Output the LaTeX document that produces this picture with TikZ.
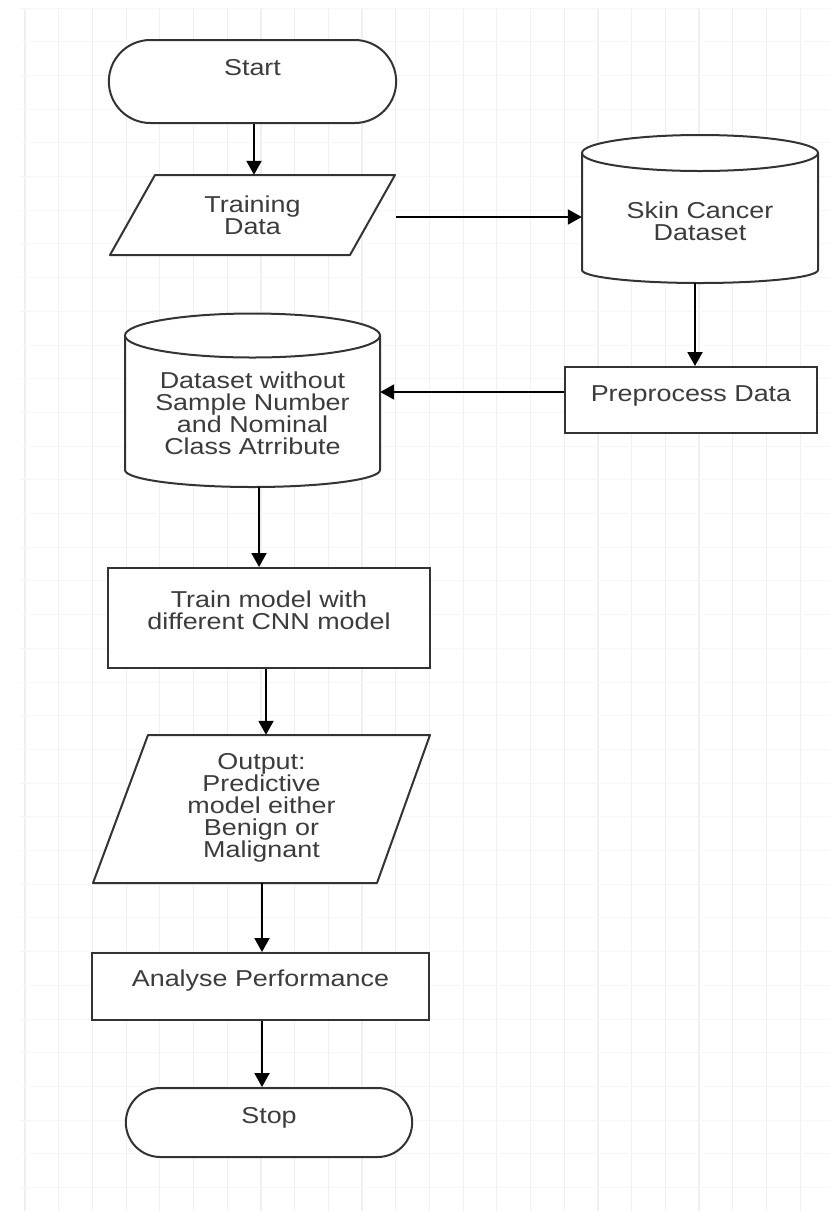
\documentclass[tikz,border=0pt]{standalone}
\usepackage{fontspec}
\setmainfont{Liberation Sans}[FakeStretch=1.17]
\usetikzlibrary{arrows.meta,shapes.misc,calc}
\definecolor{ink}{HTML}{333333}
\definecolor{txt}{HTML}{3C3C3C}
\definecolor{gridv}{HTML}{F0F0F0}
\definecolor{gridh}{HTML}{F6F6F6}
\tikzset{
  shp/.style={draw=ink, line width=2pt, fill=white},
  lbl/.style={text=txt, align=center, font=\fontsize{23}{22}\selectfont, inner sep=0pt},
  boxn/.style={shp, rectangle},
  term/.style={shp, rounded rectangle},
  ghost/.style={draw=none, rectangle, inner sep=0pt},
  arr/.style={draw=black, line width=2pt, -{Triangle[length=14pt,width=15pt]}},
}
\begin{document}
\begin{tikzpicture}[x=1pt,y=-1pt]
\useasboundingbox (0,0) rectangle (830,1211);
\fill[white] (0,0) rectangle (830,1211);
% faint grid
\foreach \i in {0,...,24} {\draw[gridv, line width=1.2pt] (25+33.7*\i,8) -- (25+33.7*\i,1211);}
\foreach \j in {0,...,35} {\draw[gridh, line width=1pt] (20,8+33.7*\j) -- (830,8+33.7*\j);}

% Start
\node[term, minimum width=294pt, minimum height=83pt] (start) at (252.5,81.5) {};
\node[lbl] (starttext) at (252.5,68) {Start};

% Training Data parallelogram
\draw[shp, line join=round] (155,175) -- (395,175) -- (350,255) -- (110,255) -- cycle;
\node[ghost, minimum width=285pt, minimum height=80pt] (tdata) at (252.5,215) {};
\node[lbl] (tdatatext) at (252.5,215) {Training\\Data};
\coordinate (tdout) at (396,217);

% Skin Cancer Dataset cylinder
\draw[shp] (582,153) -- (582,270) arc[start angle=180,end angle=360,x radius=118pt,y radius=13pt] -- (818,153);
\draw[shp] (700,153) ellipse [x radius=118pt, y radius=18pt];
\node[ghost, minimum width=236pt, minimum height=148pt] (skin) at (700,209) {};
\node[lbl] (skintext) at (700,221) {Skin Cancer\\Dataset};

% Preprocess Data
\node[boxn, minimum width=252pt, minimum height=66pt] (prep) at (691,400) {};
\node[lbl] (preptext) at (691,395.5) {Preprocess Data};

% Dataset without cylinder
\draw[shp] (125,335.5) -- (125,470) arc[start angle=180,end angle=360,x radius=127.5pt,y radius=17pt] -- (380,335.5);
\draw[shp] (252.5,335.5) ellipse [x radius=127.5pt, y radius=22pt];
\node[ghost, minimum width=255pt, minimum height=174pt] (dset) at (252.5,400) {};
\node[lbl] (dsettext) at (252.5,413.5) {Dataset without\\Sample Number\\and Nominal\\Class Atrribute};

% Train model
\node[boxn, minimum width=322pt, minimum height=100pt] (train) at (269,618) {};
\node[lbl] (traintext) at (269,610.5) {Train model with\\different CNN model};

% Output parallelogram
\draw[shp, line join=round] (148,735) -- (430,735) -- (377,883) -- (93,883) -- cycle;
\node[ghost, minimum width=337pt, minimum height=148pt] (out) at (261.5,809) {};
\node[lbl] (outtext) at (261.5,808) {Output:\\Predictive\\model either\\Benign or\\Malignant};

% Analyse Performance
\node[boxn, minimum width=337pt, minimum height=67pt] (anal) at (260.5,986.5) {};
\node[lbl] (analtext) at (260.5,980.5) {Analyse Performance};

% Stop
\node[term, minimum width=293pt, minimum height=69pt] (stop) at (269,1122.5) {};
\node[lbl] (stoptext) at (269,1117.5) {Stop};

% connectors
\draw[arr] ([xshift=1.5pt]start.south) -- ([xshift=1.5pt]start.south |- tdata.north);
\draw[arr] (tdout) -- (tdout -| skin.west);
\draw[arr] ([xshift=-5pt]skin.south) -- ([xshift=-5pt]skin.south |- prep.north);
\draw[arr] ([yshift=8pt]prep.west) -- ([yshift=8pt]prep.west -| dset.east);
\draw[arr] ([xshift=6.5pt]dset.south) -- ([xshift=6.5pt]dset.south |- train.north);
\draw[arr] ([xshift=-3pt]train.south) -- ([xshift=-3pt]train.south |- out.north);
\draw[arr] ([xshift=0.5pt]out.south) -- ([xshift=0.5pt]out.south |- anal.north);
\draw[arr] ([xshift=1.5pt]anal.south) -- ([xshift=1.5pt]anal.south |- stop.north);
\end{tikzpicture}
\end{document}
